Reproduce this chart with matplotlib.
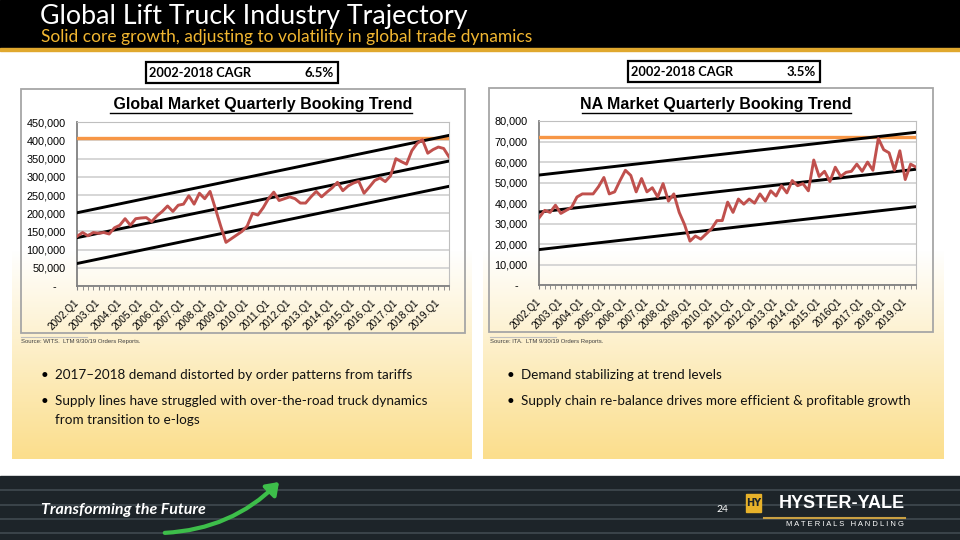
import numpy as np
import matplotlib.pyplot as plt
from matplotlib.patches import Rectangle, FancyArrowPatch
from matplotlib.ticker import FuncFormatter, MultipleLocator

# data (2002.Q1 .. 2019.Q3, 71 quarters)
global_bookings = [137, 147, 138, 147, 145, 147, 143, 160, 167, 185, 167, 185, 187, 188, 177, 193,
                   205, 220, 205, 222, 225, 248, 225, 255, 240, 260, 213, 165, 120, 130, 140, 150,
                   165, 200, 195, 215, 240, 258, 235, 240, 245, 240, 228, 228, 245, 260, 245, 258,
                   270, 285, 262, 275, 283, 288, 255, 272, 290, 297, 287, 303, 350, 342, 335, 372,
                   392, 402, 365, 375, 382, 378, 355]
na_bookings = [33, 36.5, 35.5, 39, 35, 36.5, 38, 43, 44.5, 44.5, 44.5, 48, 52.5, 44.5, 45.5, 51,
               56, 53.5, 45.5, 52, 45.5, 47.5, 43, 49.5, 41, 44.5, 35.5, 29.5, 21.5, 24, 22.5, 25,
               27.5, 31.5, 31.5, 40.5, 35.5, 42, 39.5, 42, 40, 44.5, 41, 46, 43.5, 48.5, 45, 51,
               48.5, 49.5, 46, 61, 53, 55.5, 50.5, 57.5, 53, 55, 55.5, 59, 55.5, 60, 56, 71.5,
               66, 64.5, 56, 65.5, 51.5, 59, 57.5]

global_labels = ['2002.Q1', '2003.Q1', '2004.Q1', '2005.Q1', '2006.Q1', '2007.Q1', '2008.Q1', '2009.Q1', '2010.Q1',
                 '2011.Q1', '2012.Q1', '2013.Q1', '2014.Q1', '2015.Q1', '2016.Q1', '2017.Q1', '2018.Q1', '2019.Q1']
na_labels = ['2002.Q1', '2003.Q1', '2004.Q1', '2005.Q1', '2006.Q1', '2007.Q1', '2008.Q1', '2009.Q1', '2010.Q1',
             '2011.Q1', '2012.Q1', '2013.Q1', '2014.Q1', '2015.Q1', '2016Q1', '2017.Q1', '2018.Q1', '2019.Q1']

# trend channel start / end values (thousands) and peak line
global_trend_upper = [201.5, 414]
global_trend_mid = [133, 343.5]
global_trend_lower = [62, 274]
global_peak = 408
na_trend_upper = [53.7, 74.5]
na_trend_mid = [35.7, 56.5]
na_trend_lower = [17.4, 38.3]
na_peak = 72

global_cagr = '6.5%'
na_cagr = '3.5%'

RED = '#C0504D'
ORANGE = '#F79646'
GOLD = '#F2B731'

fig = plt.figure(figsize=(9.6, 5.4), dpi=100)
fig.patch.set_facecolor('white')

# background axes in pixel coordinates
bg = fig.add_axes([0, 0, 1, 1], zorder=0)
bg.set_xlim(0, 960)
bg.set_ylim(540, 0)
bg.axis('off')

# header
bg.add_patch(Rectangle((0, 0), 960, 48, color='black'))
bg.add_patch(Rectangle((0, 48), 960, 2.5, color='#E0A82E'))
bg.text(40, 16.5, 'Global Lift Truck Industry Trajectory', color='white', fontsize=19.3,
        family='Lato', va='center', ha='left')
bg.text(41, 37, 'Solid core growth, adjusting to volatility in global trade dynamics', color=GOLD,
        fontsize=12.55, family='Lato', va='center', ha='left')

# panels with a white -> yellow gradient
grad = np.linspace(0, 1, 200)[:, None]
top = np.array([1.0, 1.0, 1.0])
bottom = np.array([251, 222, 140]) / 255
img = top + (bottom - top) * grad[:, :, None]
for x0, x1 in [(12, 472), (483, 944)]:
    bg.imshow(img, extent=(x0, x1, 459, 250), aspect='auto', zorder=0.5)

# footer
bg.add_patch(Rectangle((0, 476), 960, 64, color='#1d2429', zorder=1))
for yy in [490, 505, 519, 533]:
    bg.plot([0, 960], [yy, yy], color='#4a545a', lw=1.2, alpha=0.8, zorder=1.1)
bg.text(41, 510, 'Transforming the Future', color='white', fontsize=11.5, family='Lato',
        weight='bold', style='italic', va='center', ha='left', zorder=2)
arrow = FancyArrowPatch((162, 533), (281, 480), connectionstyle='arc3,rad=0.2',
                        arrowstyle='-|>,head_length=7,head_width=5', color='#3DBE4A', lw=3, zorder=2)
bg.add_patch(arrow)
bg.text(722, 509, '24', color='white', fontsize=7.5, family='Lato', va='center', ha='center', zorder=2)
bg.add_patch(Rectangle((746, 494), 15, 18, color='#E8B22A', zorder=2))
bg.text(753.5, 503, 'HY', color='#1d2429', fontsize=7, weight='bold', family='DejaVu Sans',
        va='center', ha='center', zorder=3)
bg.text(905, 504, 'HYSTER-YALE', color='white', fontsize=13, weight='bold', family='Liberation Sans',
        va='center', ha='right', zorder=2)
bg.plot([764, 905], [517.5, 517.5], color='#C9A043', lw=1.5, zorder=2)
bg.text(904, 525, 'M A T E R I A L S   H A N D L I N G', color='white', fontsize=5.5,
        family='Liberation Sans', va='center', ha='right', zorder=2)


def draw_chart(x0, x1, y0, y1, values, labels, upper, mid, lower, peak, ymax, ystep, scale):
    ax = fig.add_axes([x0 / 960, 1 - y1 / 540, (x1 - x0) / 960, (y1 - y0) / 540], zorder=3)
    ax.set_facecolor('none')
    n = len(values)
    xs = np.arange(n)
    ax.axhline(peak * scale, color=ORANGE, lw=2.4, zorder=3)
    for seg in [upper, mid, lower]:
        ax.plot([0, n - 1], [seg[0] * scale, seg[1] * scale], color='black', lw=2.1, zorder=4)
    ax.plot(xs, np.array(values) * scale, color=RED, lw=2.1, zorder=5)
    ax.set_xlim(0, n - 1)
    ax.set_ylim(0, ymax)
    ax.yaxis.set_major_locator(MultipleLocator(ystep))
    ax.yaxis.set_major_formatter(FuncFormatter(lambda v, p: '-   ' if v == 0 else f'{int(v):,}'))
    ax.grid(axis='y', color='#d0d0d0', lw=1.2, zorder=1)
    ax.set_axisbelow(True)
    ax.set_xticks(np.arange(0, n, 4))
    ax.set_xticks(xs, minor=True)
    ax.set_xticklabels(labels, rotation=45, ha='right', va='center', rotation_mode='anchor',
                       fontsize=7.2, family='Liberation Sans')
    ax.tick_params(axis='x', which='both', length=3, color='#808080', pad=8)
    ax.tick_params(axis='y', length=0, pad=8.5, labelsize=7.8)
    for t in ax.get_yticklabels():
        t.set_family('Liberation Sans')
    for s in ax.spines.values():
        s.set_color('#bfbfbf')
    ax.spines['left'].set_color('#808080')
    ax.spines['bottom'].set_color('#808080')
    ax.spines['left'].set_linewidth(1.3)
    ax.spines['bottom'].set_linewidth(1.3)
    return ax


ax1 = draw_chart(77.3, 449, 122.3, 286, global_bookings, global_labels, global_trend_upper,
                 global_trend_mid, global_trend_lower, global_peak, 450000, 50000, 1000)
ax2 = draw_chart(539.3, 916, 121, 285.3, na_bookings, na_labels, na_trend_upper,
                 na_trend_mid, na_trend_lower, na_peak, 80000, 10000, 1000)

# chart frames, titles, CAGR boxes, sources
for (fx0, fx1, fy0, fy1) in [(21, 465, 89, 333), (489, 932.7, 88.3, 331.7)]:
    bg.add_patch(Rectangle((fx0, fy0), fx1 - fx0, fy1 - fy0, fill=False, ec='#a6a6a6', lw=1.3, zorder=2))

bg.text(261, 104.5, ' Global Market Quarterly Booking Trend', fontsize=11.5, weight='bold',
        family='Liberation Sans', ha='center', va='center', zorder=2)
bg.plot([110, 412], [113, 113], color='black', lw=1, zorder=2)
bg.text(716, 104.5, 'NA Market Quarterly Booking Trend', fontsize=11.5, weight='bold',
        family='Liberation Sans', ha='center', va='center', zorder=2)
bg.plot([581.7, 851], [113, 113], color='black', lw=1, zorder=2)

for (bx0, bx1, by0, by1, val) in [(146, 338, 62, 83, global_cagr), (628, 820, 61, 82, na_cagr)]:
    bg.add_patch(Rectangle((bx0, by0), bx1 - bx0, by1 - by0, fill=False, ec='black', lw=1.6, zorder=2))
    bg.text(bx0 + 3, (by0 + by1) / 2 + 0.5, '2002-2018 CAGR', fontsize=9.2, weight='bold', family='Lato',
            ha='left', va='center', zorder=2)
    bg.text(bx1 - 4, (by0 + by1) / 2 + 0.5, val, fontsize=9.5, weight='bold', family='Lato',
            ha='right', va='center', zorder=2)

bg.plot([21, 87], [337, 337], color='#bfbfbf', lw=0.8, zorder=2)
bg.text(21, 342, 'Source: WITS.  LTM 9/30/19 Orders Reports.', fontsize=4.3, color='#404040',
        family='Liberation Sans', ha='left', va='center', zorder=2)
bg.plot([490, 556], [337, 337], color='#bfbfbf', lw=0.8, zorder=2)
bg.text(490, 342, 'Source: ITA.  LTM 9/30/19 Orders Reports.', fontsize=4.3, color='#404040',
        family='Liberation Sans', ha='left', va='center', zorder=2)

# bullets
left_bullets = [(375, '2017\u20132018 demand distorted by order patterns from tariffs', True),
                (401, 'Supply lines have struggled with over-the-road truck dynamics', True),
                (420, 'from transition to e-logs', False)]
right_bullets = [(375, 'Demand stabilizing at trend levels', True),
                 (401, 'Supply chain re-balance drives more efficient & profitable growth', True)]
for bx, tx, items in [(45, 55, left_bullets), (511, 521, right_bullets)]:
    for yy, txt, dot in items:
        if dot:
            bg.text(bx, yy, '\u2022', fontsize=9.7, family='Lato', ha='center', va='center', zorder=2)
        bg.text(tx, yy, txt, fontsize=9.75, family='Lato', ha='left', va='center', color='#111111', zorder=2)

fig.savefig('out.png', dpi=100)
